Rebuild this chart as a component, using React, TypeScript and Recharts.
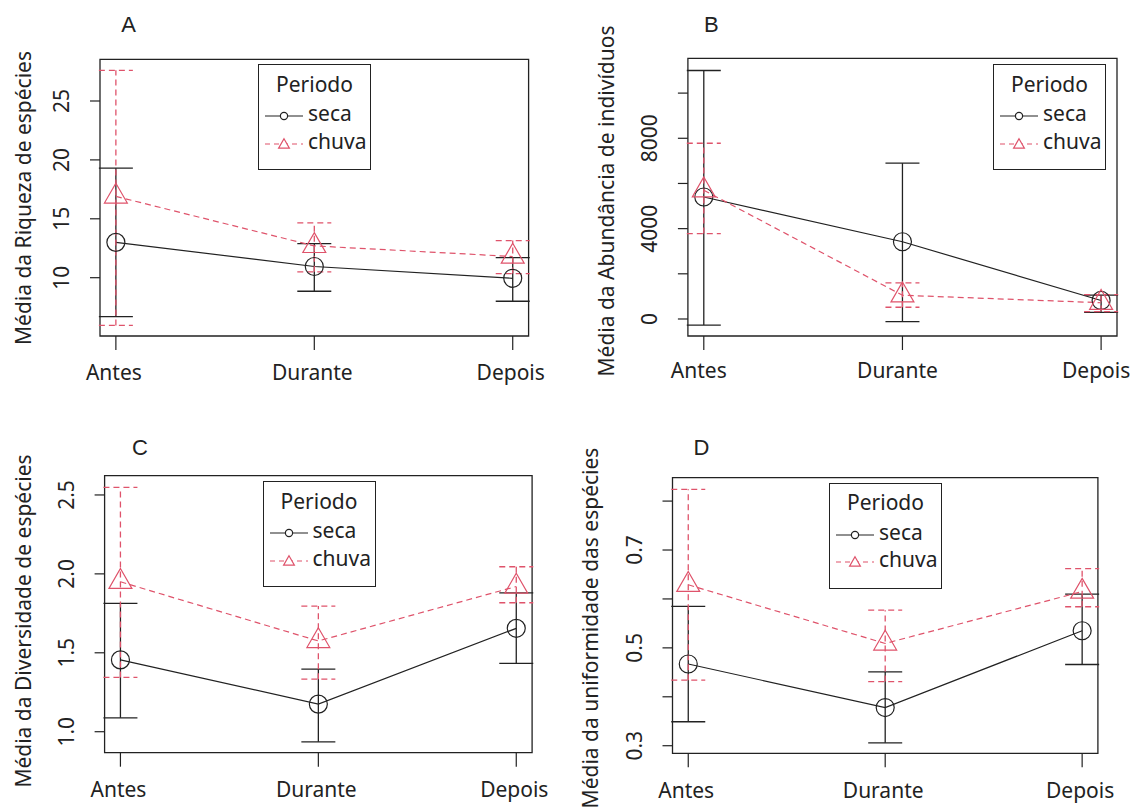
import React from "react";
import {
  ComposedChart,
  Line,
  XAxis,
  YAxis,
  ErrorBar,
  ReferenceArea,
  Legend,
} from "recharts";

const INK = "#222";
const RED = "#DF536B";
const FONT = "'Noto Sans', 'Open Sans', sans-serif";

const periodos = ["Antes", "Durante", "Depois"];

// A - riqueza
const riquezaSeca = [13.0, 10.95, 9.95];
const riquezaSecaInf = [6.7, 8.85, 8.0];
const riquezaSecaSup = [19.3, 12.9, 11.7];
const riquezaChuva = [16.9, 12.7, 11.8];
const riquezaChuvaInf = [5.95, 10.5, 10.35];
const riquezaChuvaSup = [27.6, 14.65, 13.15];
const riquezaTicks = [10, 15, 20, 25];

// B - abundancia
const abundSeca = [5400, 3420, 820];
const abundSecaInf = [-270, -120, 295];
const abundSecaSup = [11000, 6900, 1060];
const abundChuva = [5700, 1050, 720];
const abundChuvaInf = [3780, 520, 330];
const abundChuvaSup = [7780, 1600, 1080];
const abundTicks = [0, 2000, 4000, 6000, 8000, 10000];

// C - diversidade
const diverSeca = [1.455, 1.175, 1.655];
const diverSecaInf = [1.088, 0.936, 1.433];
const diverSecaSup = [1.813, 1.397, 1.88];
const diverChuva = [1.95, 1.575, 1.92];
const diverChuvaInf = [1.344, 1.333, 1.817];
const diverChuvaSup = [2.548, 1.796, 2.045];
const diverTicks = [1.0, 1.5, 2.0, 2.5];

// D - uniformidade
const uniSeca = [0.467, 0.378, 0.535];
const uniSecaInf = [0.349, 0.306, 0.466];
const uniSecaSup = [0.585, 0.451, 0.61];
const uniChuva = [0.629, 0.509, 0.615];
const uniChuvaInf = [0.434, 0.431, 0.584];
const uniChuvaSup = [0.824, 0.577, 0.662];
const uniTicks = [0.3, 0.4, 0.5, 0.6, 0.7, 0.8];

const buildRows = (
  seca: number[], secaInf: number[], secaSup: number[],
  chuva: number[], chuvaInf: number[], chuvaSup: number[]
) =>
  periodos.map((p, i) => ({
    x: i + 1,
    periodo: p,
    seca: seca[i],
    chuva: chuva[i],
    secaErr: [seca[i] - secaInf[i], secaSup[i] - seca[i]],
    chuvaErr: [chuva[i] - chuvaInf[i], chuvaSup[i] - chuva[i]],
  }));

const panels = [
  {
    title: "A",
    ylabel: "Média da Riqueza de espécies",
    rows: buildRows(riquezaSeca, riquezaSecaInf, riquezaSecaSup, riquezaChuva, riquezaChuvaInf, riquezaChuvaSup),
    ticks: riquezaTicks,
    fmt: (v: number) => String(v),
    domain: [5.05, 28.54],
    frame: [0, 0, 565, 405],
    plot: { x0: 100, x1: 528.6, y0: 59.3, y1: 336 },
    titlePos: [128.6, 25],
    labelPos: [23, 197.5],
    legendPos: [258, 64.3],
    xBase: 44,
    xShift: -2,
  },
  {
    title: "B",
    ylabel: "Média da Abundância de indivíduos",
    rows: buildRows(abundSeca, abundSecaInf, abundSecaSup, abundChuva, abundChuvaInf, abundChuvaSup),
    ticks: abundTicks,
    fmt: (v: number) => (v % 4000 === 0 ? String(v) : ""),
    domain: [-753, 11541],
    frame: [565, 0, 566, 405],
    plot: { x0: 687.9, x1: 1117, y0: 58.3, y1: 336 },
    titlePos: [711.4, 25],
    labelPos: [605.7, 201],
    legendPos: [993, 64.3],
    xBase: 42,
    xShift: -5,
  },
  {
    title: "C",
    ylabel: "Média da Diversidade de espécies",
    rows: buildRows(diverSeca, diverSecaInf, diverSecaSup, diverChuva, diverChuvaInf, diverChuvaSup),
    ticks: diverTicks,
    fmt: (v: number) => v.toFixed(1),
    domain: [0.867, 2.622],
    frame: [0, 405, 565, 406],
    plot: { x0: 104.6, x1: 532.1, y0: 475.7, y1: 752.7 },
    titlePos: [140, 448],
    labelPos: [23.2, 621],
    legendPos: [262.5, 481],
    xBase: 44,
    xShift: -2,
  },
  {
    title: "D",
    ylabel: "Média da uniformidade das espécies",
    rows: buildRows(uniSeca, uniSecaInf, uniSecaSup, uniChuva, uniChuvaInf, uniChuvaSup),
    ticks: uniTicks,
    fmt: (v: number) => ([0.3, 0.5, 0.7].some((t) => Math.abs(t - v) < 1e-6) ? v.toFixed(1) : ""),
    domain: [0.2845, 0.8478],
    frame: [565, 405, 566, 406],
    plot: { x0: 672.5, x1: 1097.9, y0: 477.7, y1: 753.3 },
    titlePos: [701.4, 448],
    labelPos: [589.6, 628],
    legendPos: [829, 482.7],
    xBase: 45,
    xShift: -2,
  },
];

const trianglePath = (cx: number, cy: number, s: number) =>
  `M${cx},${cy - 1.555 * s} L${cx + 1.347 * s},${cy + 0.778 * s} L${cx - 1.347 * s},${cy + 0.778 * s} Z`;

const circleDot = (p: any) =>
  p.cx == null ? null : (
    <circle key={`c${p.index}`} cx={p.cx} cy={p.cy} r={9} fill="none" stroke={INK} strokeWidth={1.2} />
  );

const triangleDot = (p: any) =>
  p.cx == null ? null : (
    <path key={`t${p.index}`} d={trianglePath(p.cx, p.cy, 8.5)} fill="none" stroke={RED} strokeWidth={1.2} />
  );

const YTick = (props: any) => {
  const { x, y, payload, fmt } = props;
  const label = fmt(payload.value);
  if (!label) return null;
  const cx = x - 28.5;
  return (
    <text x={cx} y={y} dy="0.36em" textAnchor="middle" transform={`rotate(-90 ${cx} ${y})`}
      fill={INK} fontSize={21} fontFamily={FONT}>
      {label}
    </text>
  );
};

const XTick = (props: any) => {
  const { x, y, payload, base, shift } = props;
  return (
    <text x={x + shift} y={y + base} textAnchor="middle" fill={INK} fontSize={21} fontFamily={FONT}>
      {periodos[payload.value - 1]}
    </text>
  );
};

const legendOrder = ["seca", "chuva"];

const LegendBox = ({ payload }: any) => {
  const items = (payload || [])
    .slice()
    .sort((a: any, b: any) => legendOrder.indexOf(a.value) - legendOrder.indexOf(b.value));
  return (
    <div style={{
      position: "relative", width: 113, height: 106, boxSizing: "border-box",
      border: `1.3px solid ${INK}`, background: "#fff", fontFamily: FONT, fontSize: 21, color: INK, lineHeight: 1,
    }}>
      <div style={{ position: "absolute", left: 0, right: 0, top: 20.5 - 12, textAlign: "center" }}>Periodo</div>
      {items.map((e: any, i: number) => {
        const cy = 51 + i * 27.5;
        const red = e.value === "chuva";
        return (
          <div key={e.value}>
            <svg width={46} height={20} style={{ position: "absolute", left: 4, top: cy - 10 }}>
              <line x1={2} x2={40} y1={10} y2={10} stroke={red ? RED : INK} strokeWidth={1.2}
                strokeDasharray={red ? "5 4" : undefined} />
              {red ? (
                <path d={trianglePath(21, 11, 4)} fill="#fff" stroke={RED} strokeWidth={1.2} />
              ) : (
                <circle cx={21} cy={10} r={3.6} fill="#fff" stroke={INK} strokeWidth={1.2} />
              )}
            </svg>
            <div style={{ position: "absolute", left: 49, top: cy - 13 }}>{e.value}</div>
          </div>
        );
      })}
    </div>
  );
};

function Panel({ spec }: { spec: any }) {
  const [px, py, pw, ph] = spec.frame;
  const { x0, x1, y0, y1 } = spec.plot;
  const yAxisW = 60;
  const xAxisH = 50;
  const margin = {
    left: x0 - px - yAxisW,
    top: y0 - py,
    right: px + pw - x1,
    bottom: py + ph - y1 - xAxisH,
  };
  return (
    <div style={{ position: "absolute", left: px, top: py }}>
      <ComposedChart width={pw} height={ph} data={spec.rows} margin={margin}>
        <XAxis
          type="number"
          dataKey="x"
          domain={[0.92, 3.08]}
          ticks={[1, 2, 3]}
          allowDataOverflow
          axisLine={false}
          tickSize={14}
          tickMargin={0}
          tickLine={{ stroke: INK, strokeWidth: 1.2 }}
          height={xAxisH}
          tick={<XTick base={spec.xBase - 14} shift={spec.xShift} />}
        />
        <YAxis
          type="number"
          domain={spec.domain}
          ticks={spec.ticks}
          allowDataOverflow
          axisLine={false}
          tickSize={10}
          tickMargin={0}
          tickLine={{ stroke: INK, strokeWidth: 1.2 }}
          width={yAxisW}
          tick={<YTick fmt={spec.fmt} />}
        />
        <ReferenceArea
          x1={0.92}
          x2={3.08}
          y1={spec.domain[0]}
          y2={spec.domain[1]}
          fill="none"
          fillOpacity={0}
          stroke={INK}
          strokeWidth={1.3}
        />
        <Line
          dataKey="seca"
          name="seca"
          type="linear"
          stroke={INK}
          strokeWidth={1.2}
          dot={circleDot}
          activeDot={false}
          isAnimationActive={false}
        >
          <ErrorBar dataKey="secaErr" direction="y" width={17} stroke={INK} strokeWidth={1.3} isAnimationActive={false} />
        </Line>
        <Line
          dataKey="chuva"
          name="chuva"
          type="linear"
          stroke={RED}
          strokeWidth={1.2}
          strokeDasharray="6 4"
          dot={triangleDot}
          activeDot={false}
          isAnimationActive={false}
        >
          <ErrorBar dataKey="chuvaErr" direction="y" width={17} stroke={RED} strokeWidth={1.3}
            strokeDasharray="6 4" isAnimationActive={false} />
        </Line>
        <Legend
          layout="horizontal"
          verticalAlign="middle"
          align="center"
          content={<LegendBox />}
          wrapperStyle={{
            position: "absolute",
            left: spec.legendPos[0] - px,
            top: spec.legendPos[1] - py,
            width: 113,
            height: 106,
          }}
        />
      </ComposedChart>
    </div>
  );
}

export default function App() {
  return (
    <div style={{ position: "absolute", left: 0, top: 0, width: 1131, height: 811, background: "#fff", fontFamily: FONT, color: INK }}>
      {panels.map((spec) => (
        <React.Fragment key={spec.title}>
          <Panel spec={spec} />
          <div style={{
            position: "absolute", left: spec.titlePos[0], top: spec.titlePos[1],
            transform: "translate(-50%, -50%)", fontFamily: "'Liberation Sans', Arial, sans-serif",
            fontSize: 22, lineHeight: 1,
          }}>
            {spec.title}
          </div>
          <div style={{
            position: "absolute", left: spec.labelPos[0], top: spec.labelPos[1],
            transform: "translate(-50%, -50%) rotate(-90deg)", whiteSpace: "nowrap",
            fontSize: 21, lineHeight: 1,
          }}>
            {spec.ylabel}
          </div>
        </React.Fragment>
      ))}
    </div>
  );
}
